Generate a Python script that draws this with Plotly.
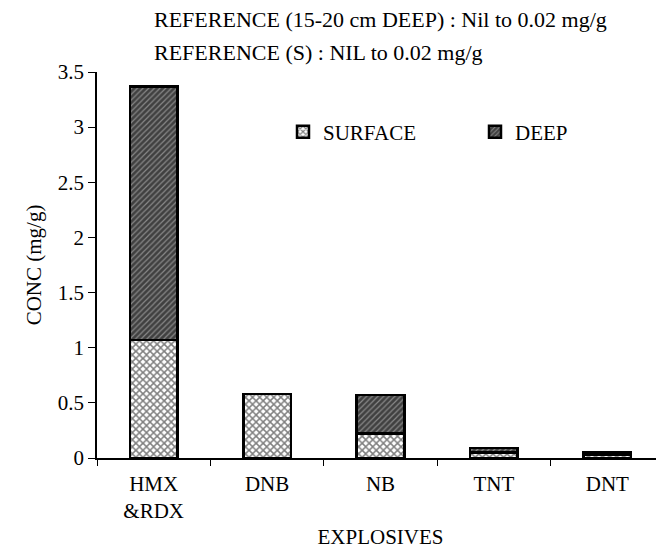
import plotly.graph_objects as go

categories = ["HMX<br>&RDX", "DNB", "NB", "TNT", "DNT"]
surface = [1.07, 0.58, 0.22, 0.05, 0.03]
deep = [2.30, 0.0, 0.35, 0.04, 0.02]
y_ticks = [0, 0.5, 1, 1.5, 2, 2.5, 3, 3.5]
y_tick_labels = ["0", "0.5", "1", "1.5", "2", "2.5", "3", "3.5"]

FONT = "Liberation Serif"
FS = 21
OFF = 8  # page body margin offset
L, R, T, B = 97 - OFF, OFF, 72 - OFF, 95 + OFF
PW, PH = 664 - L - R, 553 - T - B

fig = go.Figure()
fig.add_trace(go.Bar(
    x=categories, y=surface, name="SURFACE", legend="legend",
    marker=dict(color="white", line=dict(color="black", width=2.5),
                pattern=dict(shape="x", fgcolor="black", bgcolor="white", size=5, solidity=0.5)),
    width=0.42,
))
fig.add_trace(go.Bar(
    x=categories, y=deep, name="DEEP", legend="legend2",
    marker=dict(color="#555555", line=dict(color="black", width=2.5),
                pattern=dict(shape="/", fgcolor="#d0d0d0", bgcolor="#404040", size=4, solidity=0.3)),
    width=0.42,
))

leg_common = dict(orientation="v", yanchor="middle", xanchor="left",
                  bgcolor="rgba(0,0,0,0)", font=dict(family=FONT, size=FS), itemwidth=30)

def px_x(x):
    return (x - OFF - L) / PW

def px_y(y):
    return (553 - B - (y - OFF)) / PH

fig.update_layout(
    barmode="stack",
    width=664, height=553,
    margin=dict(l=L, r=R, t=T, b=B),
    paper_bgcolor="white", plot_bgcolor="white",
    font=dict(family=FONT, size=FS, color="black"),
    showlegend=True,
    legend=dict(x=px_x(283), y=px_y(132), **leg_common),
    legend2=dict(x=px_x(475), y=px_y(132), **leg_common),
    xaxis=dict(
        title=dict(text="EXPLOSIVES", standoff=7, font=dict(family=FONT, size=FS)),
        showline=True, linecolor="black", linewidth=1.5,
        ticks="outside", ticklen=6, tickcolor="black", tickson="boundaries",
        range=[-0.5, 4.5], showgrid=False, tickfont=dict(family=FONT, size=FS),
        ticklabelstandoff=6, automargin=False,
    ),
    yaxis=dict(
        title=dict(text="CONC (mg/g)", standoff=10, font=dict(family=FONT, size=FS)),
        range=[0, 3.5], tickvals=y_ticks, ticktext=y_tick_labels,
        showline=True, linecolor="black", linewidth=1.5,
        ticks="outside", ticklen=7, tickcolor="black", showgrid=False, zeroline=False,
        tickfont=dict(family=FONT, size=FS), automargin=False,
    ),
    annotations=[
        dict(text="REFERENCE (15-20 cm DEEP) : Nil to 0.02 mg/g", xref="paper", yref="paper",
             x=px_x(152), y=px_y(20), xanchor="left", yanchor="middle",
             showarrow=False, font=dict(family=FONT, size=22)),
        dict(text="REFERENCE (S) : NIL to 0.02 mg/g", xref="paper", yref="paper",
             x=px_x(152), y=px_y(52), xanchor="left", yanchor="middle",
             showarrow=False, font=dict(family=FONT, size=22)),
    ],
)

fig.write_html("out.html")
